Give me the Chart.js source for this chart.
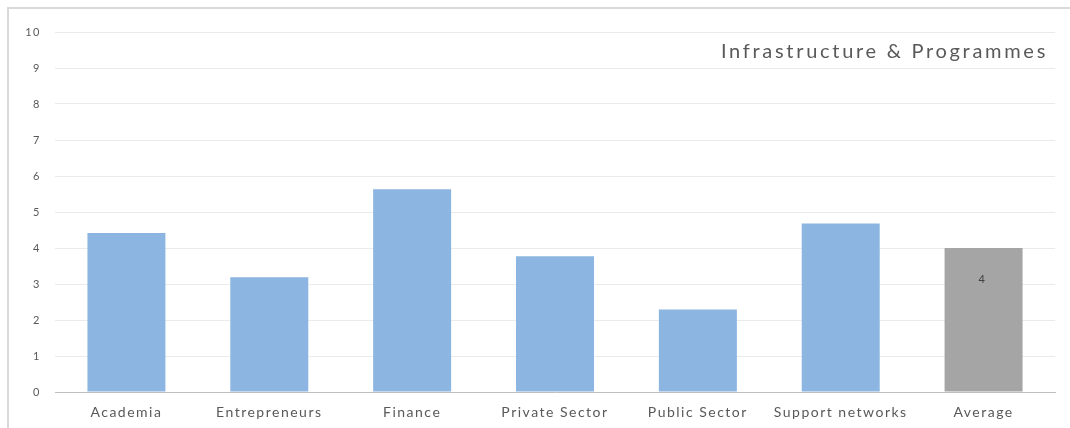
<!DOCTYPE html>
<html>
<head>
<meta charset="utf-8">
<script src="https://cdn.jsdelivr.net/npm/chart.js@4/dist/chart.umd.min.js"></script>
<style>
  html, body { margin: 0; padding: 0; background: #fff; }
  #wrap {
    position: relative;
    width: 1070px;
    height: 428px;
    overflow: hidden;
  }
  #frame {
    position: absolute;
    left: 7px;
    top: 7px;
    right: -10px;
    bottom: -10px;
    border-left: 2px solid #d9d9d9;
    border-top: 2px solid #d9d9d9;
  }
  #title {
    position: absolute;
    right: 22px;
    top: 38px;
    font-family: Lato, "Open Sans", sans-serif;
    font-size: 20px;
    letter-spacing: 2.7px;
    color: #595959;
  }
  canvas { position: absolute; left: 0; top: 0; }
</style>
</head>
<body>
<div id="wrap">
  <div id="frame"></div>
  <canvas id="chart" width="1070" height="428"></canvas>
  <div id="title">Infrastructure &amp; Programmes</div>
</div>
<script>
const categories = ['Academia', 'Entrepreneurs', 'Finance', 'Private Sector', 'Public Sector', 'Support networks', 'Average'];
const scores = [4.42, 3.19, 5.63, 3.77, 2.29, 4.68, 4];
const yTicks = [0, 1, 2, 3, 4, 5, 6, 7, 8, 9, 10];
// only the average bar carries a value label
const labelledBars = ['Average'];

const textColor = '#595959';
const fontFamily = 'Lato, "Open Sans", sans-serif';

// wide tracking on all axis text
const tracking = {
  id: 'tracking',
  beforeLayout(chart) { chart.ctx.letterSpacing = '1.5px'; },
  beforeDraw(chart) { chart.ctx.letterSpacing = '1.5px'; }
};

// value label drawn a little below the top of the bar
const barLabels = {
  id: 'barLabels',
  afterDatasetsDraw(chart) {
    const ctx = chart.ctx;
    const meta = chart.getDatasetMeta(0);
    ctx.save();
    ctx.letterSpacing = '0px';
    ctx.font = '11px ' + fontFamily;
    ctx.fillStyle = '#404040';
    ctx.textAlign = 'center';
    ctx.textBaseline = 'middle';
    meta.data.forEach((bar, i) => {
      if (!labelledBars.includes(categories[i])) return;
      ctx.fillText(String(scores[i]), bar.x - 2, bar.y + 31);
    });
    ctx.restore();
  }
};

new Chart(document.getElementById('chart'), {
  type: 'bar',
  data: {
    labels: categories,
    datasets: [{
      data: scores,
      backgroundColor: categories.map(c => c === 'Average' ? '#a5a5a5' : '#8cb6e1'),
      borderWidth: 0,
      categoryPercentage: 1,
      barPercentage: 0.546
    }]
  },
  options: {
    responsive: false,
    animation: false,
    layout: { padding: { left: 20, right: 15, top: 32, bottom: 0 } },
    plugins: {
      legend: { display: false },
      tooltip: { enabled: false }
    },
    scales: {
      x: {
        grid: { display: false, drawTicks: false },
        border: { color: '#bfbfbf', width: 1 },
        ticks: {
          padding: 12,
          color: textColor,
          font: { family: fontFamily, size: 14 },
          maxRotation: 0
        },
        afterFit: s => { s.height = 36; }
      },
      y: {
        min: 0,
        max: 10,
        afterBuildTicks: s => { s.ticks = yTicks.map(v => ({ value: v })); },
        grid: {
          color: ctx => ctx.tick && ctx.tick.value === 0 ? 'rgba(0,0,0,0)' : '#ebebeb',
          drawTicks: false,
          lineWidth: 1
        },
        border: { display: false },
        ticks: {
          padding: 14,
          color: textColor,
          font: { family: fontFamily, size: 11 }
        },
        afterFit: s => { s.width = 35; }
      }
    }
  },
  plugins: [tracking, barLabels]
});
</script>
</body>
</html>
